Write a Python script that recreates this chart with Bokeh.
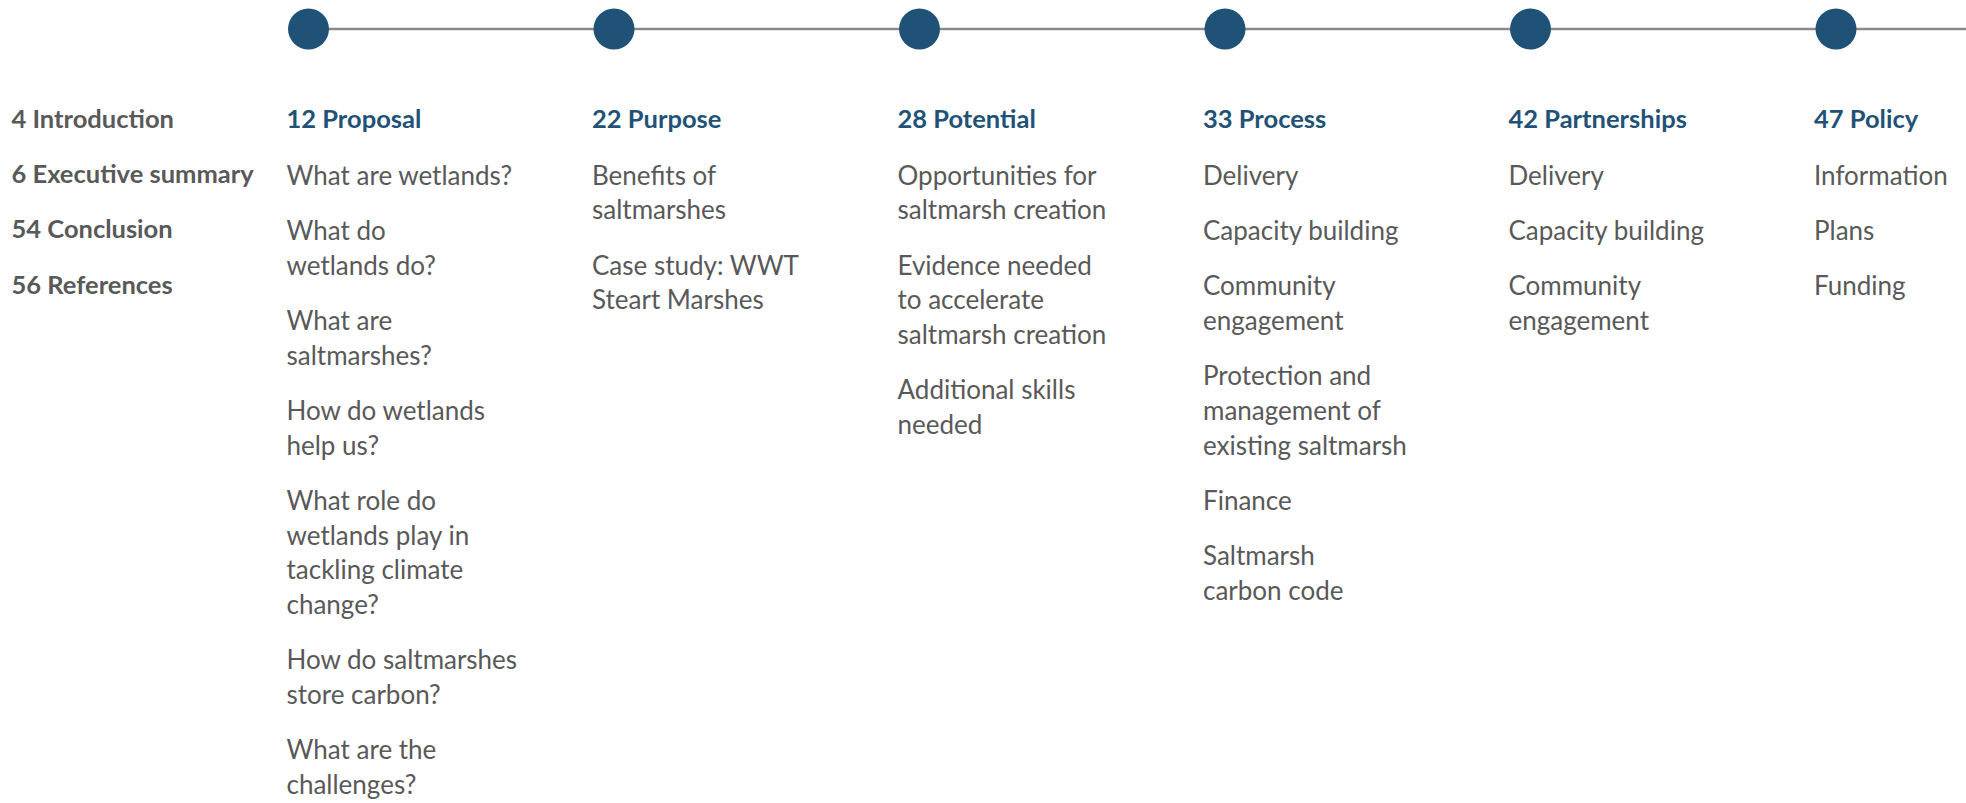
from bokeh.plotting import figure
from bokeh.models import Range1d, ColumnDataSource
from bokeh.embed import file_html
from bokeh.resources import INLINE
from bokeh.core.properties import value

# ---- data ----
left_labels = ["4 Introduction", "6 Executive summary", "54 Conclusion", "56 References"]

section_titles = ["12 Proposal", "22 Purpose", "28 Potential", "33 Process",
                  "42 Partnerships", "47 Policy"]

proposal_items = ["What are wetlands?", "What do\nwetlands do?", "What are\nsaltmarshes?",
                  "How do wetlands\nhelp us?",
                  "What role do\nwetlands play in\ntackling climate\nchange?",
                  "How do saltmarshes\nstore carbon?", "What are the\nchallenges?"]
purpose_items = ["Benefits of\nsaltmarshes", "Case study: WWT\nSteart Marshes"]
potential_items = ["Opportunities for\nsaltmarsh creation",
                   "Evidence needed\nto accelerate\nsaltmarsh creation",
                   "Additional skills\nneeded"]
process_items = ["Delivery", "Capacity building", "Community\nengagement",
                 "Protection and\nmanagement of\nexisting saltmarsh", "Finance",
                 "Saltmarsh\ncarbon code"]
partnership_items = ["Delivery", "Capacity building", "Community\nengagement"]
policy_items = ["Information", "Plans", "Funding"]

section_items = [proposal_items, purpose_items, potential_items, process_items,
                 partnership_items, policy_items]

# ---- layout ----
W, H = 1966, 803
COL0, COL_STEP = 308.0, 305.5
DOT_Y = 28.5
HEAD_Y = 117
ITEM_Y0 = 174
LINE_STEP = 34.6
ITEM_STEP = 55.4
BLUE = "#1f5276"
GREY = "#595959"
FONT = "Lato"

p = figure(width=W, height=H, x_range=Range1d(0, W), y_range=Range1d(H, 0),
           output_backend="svg", toolbar_location=None, min_border=0,
           outline_line_color=None, background_fill_color="white",
           border_fill_color="white")
p.axis.visible = False
p.grid.visible = False

dot_x = [COL0 + COL_STEP * i for i in range(len(section_titles))]

# connecting line
p.line(x=[dot_x[0], W], y=[DOT_Y, DOT_Y], line_color="#8a8a8a", line_width=2.5)
p.scatter(x=dot_x, y=[DOT_Y] * len(dot_x), marker="circle", size=41,
          fill_color=BLUE, line_color=None)

# left labels
ly = [HEAD_Y + ITEM_STEP * i for i in range(len(left_labels))]
p.text(x=[11] * len(left_labels), y=ly, text=left_labels, text_font=value(FONT),
       text_font_style="bold", text_font_size="25.5px", text_color=GREY,
       text_baseline="middle", text_align="left")

# section titles
tx = [x - 22 for x in dot_x]
p.text(x=tx, y=[HEAD_Y] * len(tx), text=section_titles, text_font=value(FONT),
       text_font_style="bold", text_font_size="25.5px", text_color=BLUE,
       text_baseline="middle", text_align="left")

# items
xs, ys, ts = [], [], []
for x, items in zip(tx, section_items):
    y = ITEM_Y0
    for it in items:
        lines = it.split("\n")
        for k, ln in enumerate(lines):
            xs.append(x)
            ys.append(y + k * LINE_STEP)
            ts.append(ln)
        y += (len(lines) - 1) * LINE_STEP + ITEM_STEP

src = ColumnDataSource(dict(x=xs, y=ys, t=ts))
p.text(x="x", y="y", text="t", source=src, text_font=value(FONT),
       text_font_size="26px", text_color=GREY, text_baseline="middle",
       text_align="left")

open("out.html", "w").write(file_html(p, INLINE))
